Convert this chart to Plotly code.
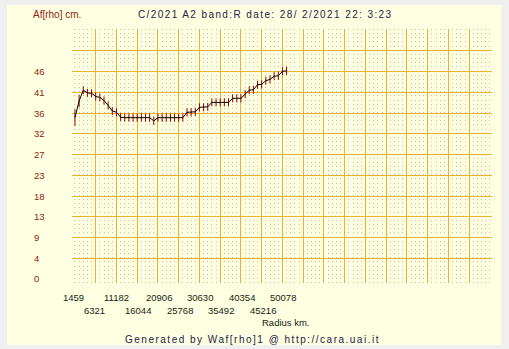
import plotly.graph_objects as go

# ---------------- data ----------------
radius_km = [1459, 2431, 3404, 4376, 5349, 6321, 7293, 8266, 9238, 10210,
             11183, 12155, 13128, 14100, 15072, 16045, 17017, 17990, 18962, 19934,
             20907, 21879, 22851, 23824, 24796, 25768, 26741, 27713, 28686, 29658,
             30630, 31603, 32575, 33548, 34520, 35492, 36465, 37437, 38409, 39382,
             40354, 41327, 42299, 43271, 44244, 45216, 46189, 47161, 48133, 49106,
             50078, 51050]
afrho_cm = [35.8, 39.5, 41.9, 41.3, 41.2, 40.5, 40.3, 39.6, 38.5, 37.3,
            37.0, 35.9, 35.8, 35.8, 35.8, 35.8, 35.8, 35.8, 35.8, 35.1,
            35.8, 35.8, 35.8, 35.8, 35.8, 35.8, 35.8, 37.0, 37.0, 37.1,
            38.1, 38.1, 38.2, 39.2, 39.2, 39.2, 39.2, 39.2, 40.1, 40.1,
            40.1, 41.0, 41.9, 42.0, 43.1, 43.2, 44.0, 44.3, 45.0, 45.1,
            46.1, 46.2]
afrho_err = [1.85, 1.4, 0.9, 0.9, 0.9, 0.9, 0.9, 0.9, 0.9, 0.9,
             0.9, 0.9, 0.9, 0.9, 0.9, 0.9, 0.9, 0.9, 0.9, 0.9,
             0.9, 0.9, 0.9, 0.9, 0.9, 0.9, 0.9, 0.9, 0.9, 0.9,
             0.9, 0.9, 0.9, 0.9, 0.9, 0.9, 0.9, 0.9, 0.9, 0.9,
             0.9, 0.9, 0.9, 0.9, 0.9, 0.9, 0.9, 0.9, 0.9, 0.9,
             0.9, 0.9]

x_tick_labels = ["1459", "6321", "11182", "16044", "20906", "25768",
                 "30630", "35492", "40354", "45216", "50078"]
y_tick_values = [0, 4.6, 9.2, 13.8, 18.4, 23.0, 27.6, 32.2, 36.8, 41.4, 46.0]
y_tick_labels = ["0", "4", "9", "13", "18", "23", "27", "32", "36", "41", "46"]
y_grid_values = [4.6, 9.2, 13.8, 18.4, 23.0, 27.6, 32.2, 36.8, 41.4, 46.0, 50.6]

title_text = "C/2021 A2 band:R date: 28/ 2/2021 22: 3:23"
y_title = "Af[rho] cm."
x_title = "Radius km."
footer_text = "Generated by Waf[rho]1 @ http://cara.uai.it"

# ---------------- geometry / style ----------------
W, H = 509, 349
L, R, T, B = 72, 17, 29, 66
PW, PH = W - L - R, H - T - B

x_start = 1459.0
x_major = 4861.9
x_minor = 972.38
x_range = [x_start - 0.142 * x_major, x_start + 20.099 * x_major]
y_range = [-0.89, 55.48]
x_grid_values = [x_start + k * x_major for k in range(1, 20)]

BG_OUT = "#efefef"
BG = "#ffffe1"
GRID = "#ebb035"
DOTS = "#c2c2ac"
RED_TXT = "#8e1e12"
DARK_TXT = "#141e14"
NAVY = "#23234a"
FONT = "Liberation Sans, Arial, sans-serif"


def px_x(px):
    return (px - L) / PW


def px_y(py):
    return (H - B - py) / PH


fig = go.Figure()

fig.add_trace(go.Scatter(
    x=radius_km, y=afrho_cm, mode="lines",
    line=dict(color="#000000", width=1),
    error_y=dict(type="data", array=afrho_err, visible=True,
                 color="#990000", thickness=1, width=0),
    showlegend=False, hoverinfo="skip",
))
# helper trace so the overlaid grid axes are rendered
fig.add_trace(go.Scatter(
    x=[radius_km[0]], y=[afrho_cm[0]], mode="none",
    xaxis="x2", yaxis="y2", showlegend=False, hoverinfo="skip",
))

annotations = []
# y tick labels (left aligned)
for v, t in zip(y_tick_values, y_tick_labels):
    annotations.append(dict(
        x=px_x(32), xref="paper", y=v, yref="y", text=t, showarrow=False,
        xanchor="left", yanchor="middle",
        font=dict(family=FONT, size=9.5, color=RED_TXT)))
# x tick labels, alternating rows, left aligned ~12px before the tick
for i, t in enumerate(x_tick_labels):
    row_y = 297 if i % 2 == 0 else 310
    annotations.append(dict(
        x=float(t), xref="x", y=px_y(row_y), yref="paper", text=t,
        showarrow=False, xanchor="left", yanchor="middle", xshift=-14,
        font=dict(family=FONT, size=9.5, color=DARK_TXT)))

annotations += [
    dict(x=px_x(31), xref="paper", y=px_y(14), yref="paper", text=y_title,
         showarrow=False, xanchor="left", yanchor="middle",
         font=dict(family=FONT, size=10, color=RED_TXT)),
    dict(x=px_x(136), xref="paper", y=px_y(14), yref="paper",
         text='<span style="letter-spacing:1.4px">' + title_text + '</span>',
         showarrow=False, xanchor="left", yanchor="middle",
         font=dict(family=FONT, size=10, color=NAVY)),
    dict(x=px_x(286), xref="paper", y=px_y(322.5), yref="paper", text=x_title,
         showarrow=False, xanchor="center", yanchor="middle",
         font=dict(family=FONT, size=9.5, color=DARK_TXT)),
    dict(x=px_x(252), xref="paper", y=px_y(339.5), yref="paper",
         text='<span style="letter-spacing:1.5px">' + footer_text + '</span>',
         showarrow=False, xanchor="center", yanchor="middle",
         font=dict(family=FONT, size=10, color=NAVY)),
]

fig.update_layout(
    width=W, height=H,
    margin=dict(l=L, r=R, t=T, b=B, pad=0),
    paper_bgcolor=BG_OUT, plot_bgcolor=BG,
    font=dict(family=FONT, size=10, color=DARK_TXT),
    showlegend=False,
    annotations=annotations,
    shapes=[dict(type="rect", xref="paper", yref="paper", layer="below",
                 x0=px_x(7), x1=px_x(501), y0=px_y(345), y1=px_y(5),
                 fillcolor=BG, line=dict(width=0))],
    xaxis=dict(range=x_range, showgrid=False, showticklabels=False,
               ticks="", zeroline=False, showline=False, fixedrange=True),
    yaxis=dict(range=y_range, showgrid=False, showticklabels=False,
               ticks="", zeroline=False, showline=False, fixedrange=True),
    xaxis2=dict(overlaying="x", range=x_range, tickmode="array",
                tickvals=x_grid_values, showgrid=True, gridcolor=GRID,
                gridwidth=1, showticklabels=False, ticks="",
                zeroline=False, showline=False, fixedrange=True,
                minor=dict(tickmode="linear", tick0=x_start, dtick=x_minor,
                           showgrid=True, gridcolor=DOTS, gridwidth=1,
                           griddash="1px,3.15px", ticks="")),
    yaxis2=dict(overlaying="y", range=y_range, tickmode="array",
                tickvals=y_grid_values, showgrid=True, gridcolor=GRID,
                gridwidth=1, showticklabels=False, ticks="",
                zeroline=False, showline=False, fixedrange=True),
)

# remove the page's default 8px body margin so the figure fills the window
fig.write_html(
    "out.html",
    config={"displayModeBar": False, "staticPlot": True},
    post_script="document.body.style.margin='0';"
                "document.body.style.background='" + BG_OUT + "';",
)
